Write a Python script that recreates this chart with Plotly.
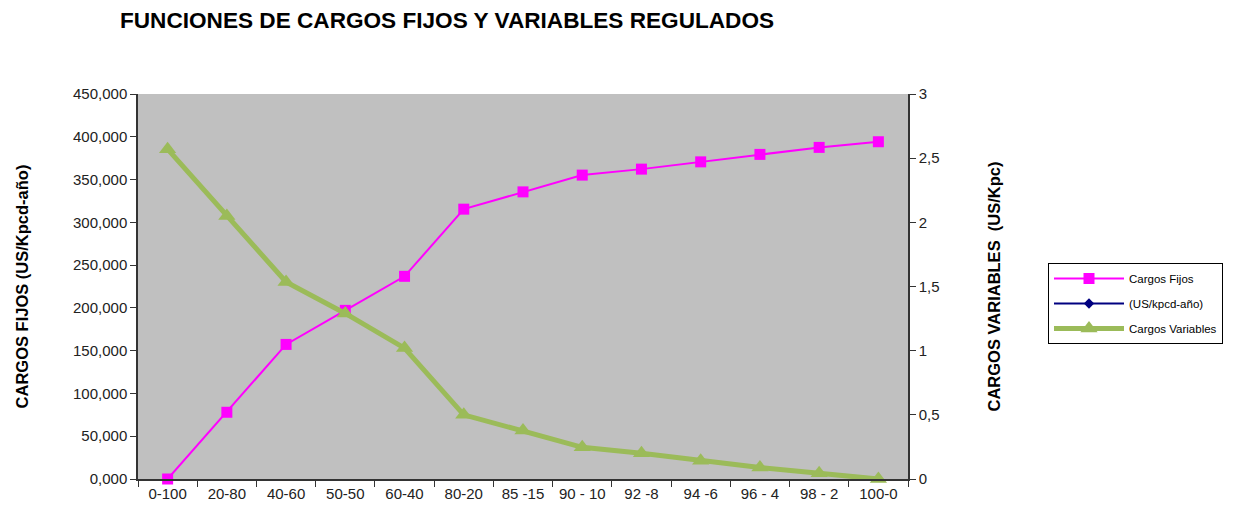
import plotly.graph_objects as go

categories = ["0-100", "20-80", "40-60", "50-50", "60-40", "80-20", "85 -15",
              "90 - 10", "92 -8", "94 -6", "96 - 4", "98 - 2", "100-0"]
cargos_fijos = [0, 78000, 157300, 197100, 236900, 315400, 335600,
                355200, 362200, 370700, 379400, 387600, 394200]
cargos_variables = [2.57, 2.05, 1.535, 1.29, 1.02, 0.50, 0.377,
                    0.247, 0.20, 0.143, 0.09, 0.044, 0.0]
unidad_series = [None] * len(categories)

left_tickvals = [0, 50000, 100000, 150000, 200000, 250000, 300000, 350000, 400000, 450000]
left_ticktext = ["0,000", "50,000", "100,000", "150,000", "200,000", "250,000",
                 "300,000", "350,000", "400,000", "450,000"]
right_tickvals = [0, 0.5, 1, 1.5, 2, 2.5, 3]
right_ticktext = ["0", "0,5", "1", "1,5", "2", "2,5", "3"]

fig = go.Figure()
fig.add_trace(go.Scatter(
    x=categories, y=cargos_fijos, name="Cargos Fijos", mode="lines+markers",
    line=dict(color="#FF00FF", width=2),
    marker=dict(symbol="square", size=11, color="#FF00FF"),
    yaxis="y", cliponaxis=False, legendgroup="a"))
fig.add_trace(go.Scatter(
    x=categories, y=unidad_series, name="(US/kpcd-año)", mode="lines+markers",
    line=dict(color="#000080", width=2),
    marker=dict(symbol="diamond", size=8, color="#000080"),
    yaxis="y", legendgroup="b"))
fig.add_trace(go.Scatter(
    x=categories, y=cargos_variables, name="Cargos Variables", mode="lines+markers",
    line=dict(color="#9BBB59", width=5),
    marker=dict(symbol="triangle-up", size=15, color="#9BBB59"),
    yaxis="y2", cliponaxis=False, legendgroup="c"))

axis_font = dict(family="Liberation Sans, Arial, sans-serif", size=15, color="#222222")

fig.update_layout(
    width=1234, height=510,
    margin=dict(l=130, r=334, t=86, b=39),
    paper_bgcolor="white",
    plot_bgcolor="#C0C0C0",
    font=dict(family="Liberation Sans, Arial, sans-serif", color="black"),
    title=dict(text="<b>FUNCIONES DE CARGOS FIJOS Y VARIABLES REGULADOS</b>",
               x=112/1234, xanchor="left", y=1 - 12/510, yanchor="middle",
               font=dict(size=22.6, color="black")),
    xaxis=dict(type="category", tickson="boundaries", ticks="outside", ticklen=6,
               tickcolor="#333333", showline=True, linecolor="#333333", linewidth=1.5,
               showgrid=False, tickfont=axis_font, range=[-0.5, 12.5]),
    yaxis=dict(range=[0, 450000], tickvals=left_tickvals, ticktext=left_ticktext,
               ticks="outside", ticklen=6, tickcolor="#333333", showline=True,
               linecolor="#333333", linewidth=1.5, showgrid=False, zeroline=False,
               tickfont=axis_font, automargin=False,
               title=dict(text="<b>CARGOS FIJOS (US/Kpcd-año)</b>",
                          font=dict(size=16.5, color="black"), standoff=40)),
    yaxis2=dict(range=[0, 3], tickvals=right_tickvals, ticktext=right_ticktext,
                overlaying="y", side="right", ticks="outside", ticklen=6,
                tickcolor="#333333", showline=True, linecolor="#333333", linewidth=1.5,
                showgrid=False, zeroline=False, tickfont=axis_font, automargin=False,
                title=dict(text="<b>CARGOS VARIABLES  (US/Kpc)</b>",
                           font=dict(size=16.5, color="black"), standoff=50)),
    legend=dict(x=(1040 - 130) / 770, xanchor="left", y=(471 - 255) / 385, yanchor="top",
                bgcolor="white", bordercolor="black", borderwidth=1,
                font=dict(size=11.5, color="black"), itemwidth=70,
                traceorder="grouped", tracegroupgap=6),
    showlegend=True,
)

fig.write_html("out.html")
